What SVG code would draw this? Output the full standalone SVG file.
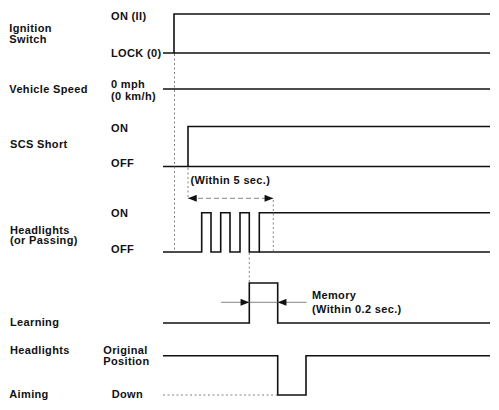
<svg xmlns="http://www.w3.org/2000/svg" width="499" height="410" viewBox="0 0 499 410">
<defs>
<style>
text{font-family:"Liberation Sans",Arial,sans-serif;font-weight:bold;font-size:11px;letter-spacing:0.35px;fill:#111}
.w{fill:none;stroke:#111;stroke-width:1.6;stroke-linejoin:miter}
.d{fill:none;stroke:#777;stroke-width:0.9;stroke-dasharray:2,2.5}
.a{fill:none;stroke:#666;stroke-width:0.8}
.da{fill:none;stroke:#666;stroke-width:0.8;stroke-dasharray:5,3}
</style>
<marker id="ah" viewBox="0 0 10 8" refX="10" refY="4" markerWidth="9" markerHeight="7" markerUnits="userSpaceOnUse" orient="auto">
<path d="M0,0 L10,4 L0,8 Z" fill="#111"/>
</marker>
</defs>
<rect width="499" height="410" fill="#fff"/>

<g id="ignition">
<text x="9.3" y="31.7">Ignition</text>
<text x="9.3" y="42.7">Switch</text>
<text x="111" y="20">ON (II)</text>
<text x="111" y="57.3">LOCK (0)</text>
<path class="w" d="M163,53 H174 V14 H490"/>
<path class="w" d="M174,53 H490"/>
</g>

<g id="vehicle-speed">
<text x="9.3" y="92.7">Vehicle Speed</text>
<text x="111" y="88.3">0 mph</text>
<text x="111" y="100">(0 km/h)</text>
<path class="w" d="M163,89 H490"/>
</g>

<g id="scs-short">
<text x="10" y="148.3">SCS Short</text>
<text x="111" y="131.7">ON</text>
<text x="111" y="166.7">OFF</text>
<path class="w" d="M163,166.5 H188 V126.5 H490"/>
<path class="w" d="M188,166.5 H490"/>
</g>

<g id="headlights-passing">
<text x="10" y="233.8">Headlights</text>
<text x="10" y="244.3">(or Passing)</text>
<text x="111" y="216.7">ON</text>
<text x="111" y="253.3">OFF</text>
<path class="w" d="M163,252 H201.7 V212.7 H211 V252 H220.7 V212.7 H230 V252 H240 V212.7 H249.3 V252 H259.3 V212.7 H490"/>
<path class="w" d="M259.3,252 H490"/>
<text x="190.5" y="184">(Within 5 sec.)</text>
</g>

<g id="learning">
<text x="10" y="326">Learning</text>
<path class="w" d="M163,323 H249.3 V283 H277.7 V323 H490"/>
<text x="312" y="298.5">Memory</text>
<text x="312" y="312.5">(Within 0.2 sec.)</text>
</g>

<g id="headlights-aiming">
<text x="10" y="354.3">Headlights</text>
<text x="9.3" y="398.3">Aiming</text>
<text x="103.3" y="354.3">Original</text>
<text x="103.3" y="365.3">Position</text>
<text x="111.7" y="398.3">Down</text>
<path class="w" d="M163,355.7 H277.7 V395 H306 V355.7 H490"/>
</g>

<g id="connectors">
<path class="d" d="M174.5,54 V252"/>
<path class="d" d="M188,168 V198"/>
<path class="d" d="M273.3,200 V252"/>
<path class="d" d="M249.3,253 V283"/>
<path class="d" d="M163,395 H277"/>
<path class="da" d="M190,198.3 H271"/>
<path class="a" d="M196,198.3 H188" marker-end="url(#ah)"/>
<path class="a" d="M265,198.3 H273.3" marker-end="url(#ah)"/>
<path class="a" d="M221,302.3 H249.3" marker-end="url(#ah)"/>
<path class="a" d="M306.7,302.3 H277.7" marker-end="url(#ah)"/>
<path class="a" d="M249.3,302.3 H277.7"/>
</g>
</svg>
